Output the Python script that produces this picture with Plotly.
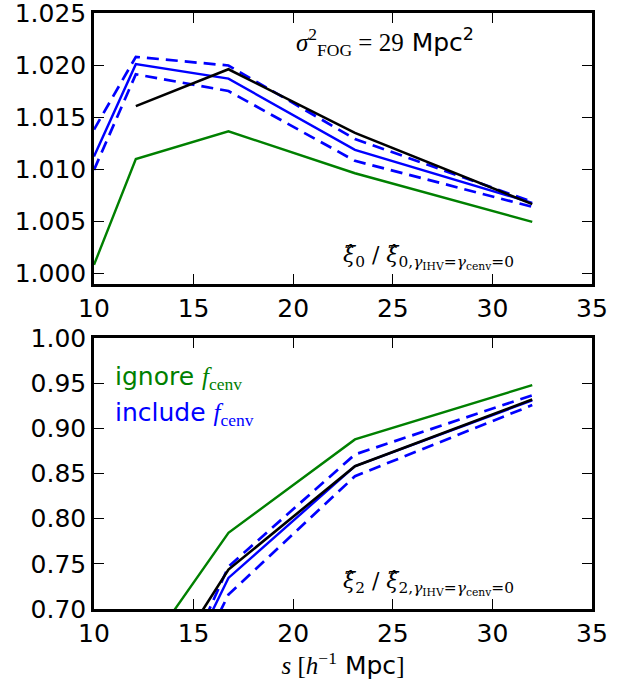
import plotly.graph_objects as go

# separation bins (h^-1 Mpc); first top-panel point is the left edge of the axis
s_top = [10.0, 12.1, 16.75, 23.1, 32.0]
s_bot = [12.1, 16.75, 23.1, 32.0]

# monopole ratio xi0 / xi0(gamma_IHV = gamma_cenv = 0)
xi0_ignore = [1.00084, 1.01099, 1.01365, 1.00963, 1.00496]
xi0_include = [1.01124, 1.02010, 1.01871, 1.01188, 1.00679]
xi0_include_hi = [1.01382, 1.02080, 1.01997, 1.01292, 1.00689]
xi0_include_lo = [1.00995, 1.01913, 1.01752, 1.01082, 1.00641]
xi0_ref = [None, 1.01607, 1.01961, 1.01350, 1.00667]

# quadrupole ratio xi2 / xi2(gamma_IHV = gamma_cenv = 0)
xi2_ignore = [0.638, 0.7843, 0.8877, 0.9479]
xi2_include = [0.524, 0.7344, 0.8581, 0.9310]
xi2_include_hi = [0.518, 0.7470, 0.8711, 0.9365]
xi2_include_lo = [0.507, 0.7160, 0.8470, 0.9257]
xi2_ref = [0.5827, 0.7436, 0.8581, 0.9320]

y0_ticks = [1.000, 1.005, 1.010, 1.015, 1.020, 1.025]
y2_ticks = [0.70, 0.75, 0.80, 0.85, 0.90, 0.95, 1.00]
x_ticks = [10, 15, 20, 25, 30, 35]

GREEN = "#008000"
BLUE = "#0000ff"
DASH = "12px,7px"
SERIF = "DejaVu Serif"
SANS = "DejaVu Sans"

fig = go.Figure()


def add_set(x, ign, inc, hi, lo, ref, xa, ya):
    common = dict(mode="lines", xaxis=xa, yaxis=ya, showlegend=False, hoverinfo="skip")
    fig.add_trace(go.Scatter(x=x, y=ign, line=dict(color=GREEN, width=2.4), **common))
    fig.add_trace(go.Scatter(x=x, y=hi, line=dict(color=BLUE, width=2.7, dash=DASH), **common))
    fig.add_trace(go.Scatter(x=x, y=lo, line=dict(color=BLUE, width=2.7, dash=DASH), **common))
    fig.add_trace(go.Scatter(x=x, y=inc, line=dict(color=BLUE, width=2.4), **common))
    fig.add_trace(go.Scatter(x=x, y=ref, line=dict(color="black", width=2.6), **common))


add_set(s_top, xi0_ignore, xi0_include, xi0_include_hi, xi0_include_lo, xi0_ref, "x", "y")
add_set(s_bot, xi2_ignore, xi2_include, xi2_include_hi, xi2_include_lo, xi2_ref, "x2", "y2")

axis_style = dict(
    showline=True, linecolor="black", linewidth=2.5, mirror="ticks",
    ticks="inside", ticklen=10, tickwidth=1, tickcolor="black",
    showgrid=False, zeroline=False, automargin=False, ticklabeloverflow="allow",
    tickfont=dict(family=SANS, size=25, color="black"),
)

fig.update_layout(
    width=618, height=687,
    margin=dict(l=94, r=26, t=13, b=78),
    paper_bgcolor="white", plot_bgcolor="white",
    xaxis=dict(domain=[0, 1], range=[10, 35.0001], tickvals=x_ticks, anchor="y", **axis_style),
    yaxis=dict(domain=[0.5453, 1], range=[0.999, 1.02501], tickvals=y0_ticks,
               tickformat=".3f", anchor="x", **axis_style),
    xaxis2=dict(domain=[0, 1], range=[10, 35.0001], tickvals=x_ticks, anchor="y2",
                title=dict(text="<span style='font-family:Liberation Serif'><i>s</i> [<i>h</i><sup>−1</sup></span> Mpc<span style='font-family:Liberation Serif'>]</span>",
                           font=dict(family=SANS, size=25, color="black"), standoff=8),
                **axis_style),
    yaxis2=dict(domain=[0, 0.4547], range=[0.69999, 1.00001], tickvals=y2_ticks,
                tickformat=".2f", anchor="x2", **axis_style),
)

XI = "\u03be\u0302"


def ratio_label(ell):
    return (f"<i>{XI}</i><sub>{ell}</sub> / <i>{XI}</i>"
            f"<sub>{ell},<i>γ</i><sub>IHV</sub>=<i>γ</i><sub>cenv</sub>=0</sub>")


annotations = [
    dict(xref="paper", yref="paper", x=0.585, y=0.952, xanchor="center", yanchor="middle",
         text="<span style='font-family:Liberation Serif'><i>σ</i><sup>2</sup><sub>FOG</sub> = 29</span> Mpc<sup>2</sup>",
         font=dict(family=SANS, size=25, color="black"), showarrow=False),
    dict(xref="paper", yref="paper", x=0.847, y=0.589, xanchor="right", yanchor="middle",
         text=ratio_label(0), font=dict(family=SERIF, size=22, color="black"), showarrow=False),
    dict(xref="paper", yref="paper", x=0.847, y=0.042, xanchor="right", yanchor="middle",
         text=ratio_label(2), font=dict(family=SERIF, size=22, color="black"), showarrow=False),
    dict(xref="paper", yref="paper", x=0.038, y=0.388, xanchor="left", yanchor="middle",
         text="ignore <span style='font-family:Liberation Serif'><i>f</i><sub>cenv</sub></span>",
         font=dict(family=SANS, size=25, color=GREEN), showarrow=False),
    dict(xref="paper", yref="paper", x=0.038, y=0.327, xanchor="left", yanchor="middle",
         text="include <span style='font-family:Liberation Serif'><i>f</i><sub>cenv</sub></span>",
         font=dict(family=SANS, size=25, color=BLUE), showarrow=False),
]
fig.update_layout(annotations=annotations)

fig.write_html("out.html")
